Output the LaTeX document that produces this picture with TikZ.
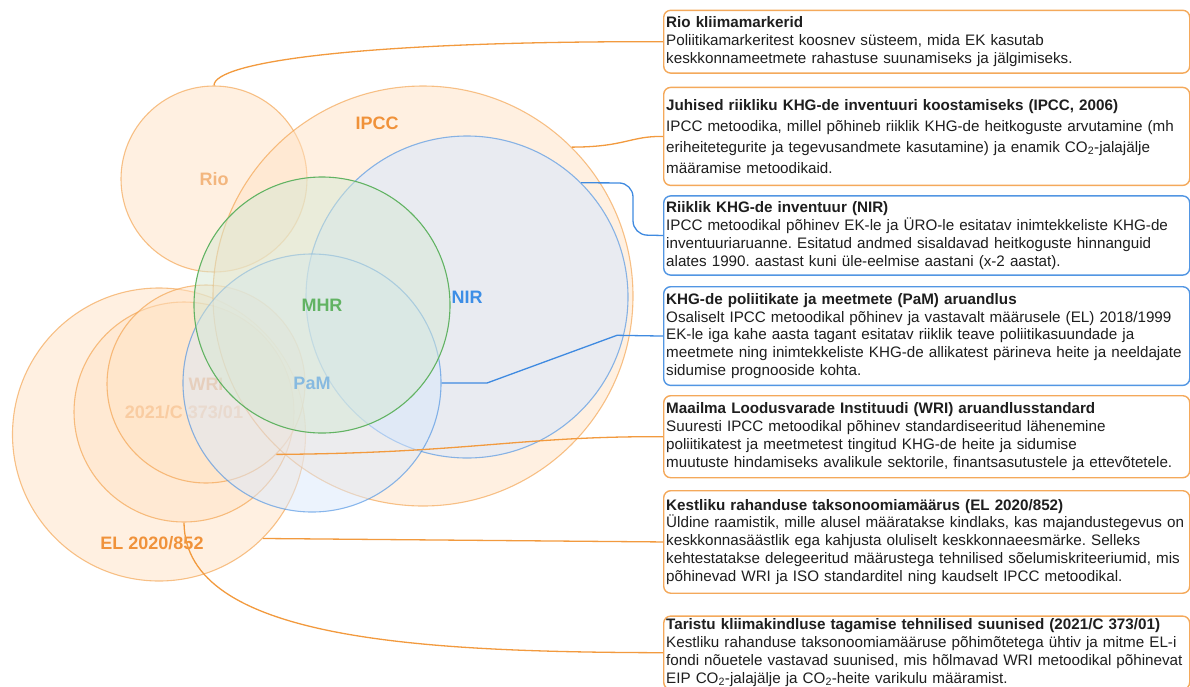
\documentclass[tikz,border=0pt]{standalone}
\usepackage{fontspec}
\setmainfont{Liberation Sans}
\frenchspacing
\definecolor{oraline}{HTML}{F29A3E}
\definecolor{orafill}{HTML}{FFE2C4}
\definecolor{oralabel}{HTML}{F0923A}
\definecolor{oralight}{HTML}{F3B67E}
\definecolor{bluline}{HTML}{3F8AE0}
\definecolor{blufill}{HTML}{DAE8FC}
\definecolor{blulabel}{HTML}{3D8EE6}
\definecolor{pamlabel}{HTML}{3A8CEE}
\definecolor{grnline}{HTML}{62B363}
\definecolor{grnfill}{HTML}{D5E8D4}
\definecolor{txt}{HTML}{1E1E1E}
\begin{document}
\begin{tikzpicture}[x=1pt,y=-1pt,
  venn/.style={circle, inner sep=0pt, line width=1.1pt, text opacity=1,
    font=\fontsize{18}{20}\selectfont\bfseries},
  orangeset/.style={venn, draw=oraline, draw opacity=0.6, fill=orafill, fill opacity=0.5},
  blueset/.style={venn, draw=bluline, draw opacity=0.6, fill=blufill, fill opacity=0.6},
  greenset/.style={venn, draw=grnline, fill=grnfill, fill opacity=0.5},
  setlabel/.style={font=\fontsize{18}{20}\selectfont\bfseries, inner sep=0pt},
  infobox/.style={rectangle, rounded corners=7pt, line width=1.4pt, fill=white,
    anchor=north west, minimum width=526pt, text width=521pt, inner xsep=2.5pt,
    inner ysep=0pt, align=left, text=txt,
    font=\fontsize{15.2}{17.9}\selectfont},
  orabox/.style={infobox, draw=oraline!85},
  blubox/.style={infobox, draw=bluline!90},
  link/.style={line width=1.3pt},
]
\useasboundingbox (0,0) rectangle (1190,686);
\clip (0,0) rectangle (1190,686);

% sets of the diagram, back to front
\node[orangeset, minimum size=293pt] (el) at (159,434.5) {};
\node[orangeset, minimum size=220pt, text=oralight] (c2021) at (184,412) {2021/C 373/01};
\node[orangeset, minimum size=198pt, text=oralight] (wri) at (206,384) {WRI};
\node[orangeset, minimum size=186pt, text=oralight] (rio) at (214,179) {Rio};
\node[orangeset, minimum size=420pt] (ipcc) at (423,296) {};
\node[blueset, minimum size=322pt, text=blulabel] (nir) at (467,297) {NIR};
\node[blueset, fill opacity=0.5, minimum size=258pt, text=pamlabel] (pam) at (312,383) {PaM};
\node[greenset, minimum size=256pt, text=grnline] (mhr) at (322,305) {MHR};
\node[setlabel, text=oralabel] (ipcclabel) at (377,123) {IPCC};
\node[setlabel, text=oralabel] (ellabel) at (152,543) {EL 2020/852};

% explanation boxes
\node[orabox, minimum height=62.8pt] (b1) at (663,9.6)
  {\textbf{Rio kliimamarkerid}\\
   Poliitikamarkeritest koosnev süsteem, mida EK kasutab\\
   keskkonnameetmete rahastuse suunamiseks ja jälgimiseks.};
\node[orabox, minimum height=98pt, font=\fontsize{15.2}{20.8}\selectfont] (b2) at (663,86.7)
  {\textbf{Juhised riikliku KHG-de inventuuri koostamiseks (IPCC, 2006)}\\
   IPCC metoodika, millel põhineb riiklik KHG-de heitkoguste arvutamine (mh\\
   eriheitetegurite ja tegevusandmete kasutamine) ja enamik CO\textsubscript{2}-jalajälje\\
   määramise metoodikaid.};
\node[blubox, minimum height=79.2pt] (b3) at (663,195.2)
  {\textbf{Riiklik KHG-de inventuur (NIR)}\\
   IPCC metoodikal põhinev EK-le ja ÜRO-le esitatav inimtekkeliste KHG-de\\
   inventuuriaruanne. Esitatud andmed sisaldavad heitkoguste hinnanguid\\
   alates 1990. aastast kuni üle-eelmise aastani (x-2 aastat).};
\node[blubox, minimum height=98.7pt] (b4) at (663,286)
  {\textbf{KHG-de poliitikate ja meetmete (PaM) aruandlus}\\
   Osaliselt IPCC metoodikal põhinev ja vastavalt määrusele (EL) 2018/1999\\
   EK-le iga kahe aasta tagant esitatav riiklik teave poliitikasuundade ja\\
   meetmete ning inimtekkeliste KHG-de allikatest pärineva heite ja neeldajate\\
   sidumise prognooside kohta.};
\node[orabox, minimum height=82pt] (b5) at (663,395)
  {\textbf{Maailma Loodusvarade Instituudi (WRI) aruandlusstandard}\\
   Suuresti IPCC metoodikal põhinev standardiseeritud lähenemine\\
   poliitikatest ja meetmetest tingitud KHG-de heite ja sidumise\\
   muutuste hindamiseks avalikule sektorile, finantsasutustele ja ettevõtetele.};
\node[orabox, minimum height=102.5pt] (b6) at (663,490)
  {\textbf{Kestliku rahanduse taksonoomiamäärus (EL 2020/852)}\\
   Üldine raamistik, mille alusel määratakse kindlaks, kas majandustegevus on\\
   keskkonnasäästlik ega kahjusta oluliselt keskkonnaeesmärke. Selleks\\
   kehtestatakse delegeeritud määrustega tehnilised sõelumiskriteeriumid, mis\\
   põhinevad WRI ja ISO standarditel ning kaudselt IPCC metoodikal.};
\node[orabox, minimum height=73.2pt] (b7) at (663,615.4)
  {\textbf{Taristu kliimakindluse tagamise tehnilised suunised (2021/C 373/01)}\\
   Kestliku rahanduse taksonoomiamääruse põhimõtetega ühtiv ja mitme EL-i\\
   fondi nõuetele vastavad suunised, mis hõlmavad WRI metoodikal põhinevat\\
   EIP CO\textsubscript{2}-jalajälje ja CO\textsubscript{2}-heite varikulu määramist.};

% connectors from the sets to their boxes
\draw[link, oraline] (rio.north) .. controls (214,62) and (360,41) .. (b1.west);
\draw[link, oraline] (ipcc.45) .. controls (625,147) and (630,136) .. (b2.west);
\draw[link, bluline, rounded corners=14pt] (nir.45) -- (633,183) -- (633,234.8) -- (b3.west);
\draw[link, bluline] (pam.east) -- (487,383) -- (617,335.3) -- (b4.west);
\draw[link, oraline] (wri.-45) .. controls (470,453) and (520,436) .. (b5.west);
\draw[link, oraline] (el.-45) -- (b6.west);
\draw[link, oraline] (c2021.south) .. controls (185,640) and (420,652) .. (b7.west);
\end{tikzpicture}
\end{document}
